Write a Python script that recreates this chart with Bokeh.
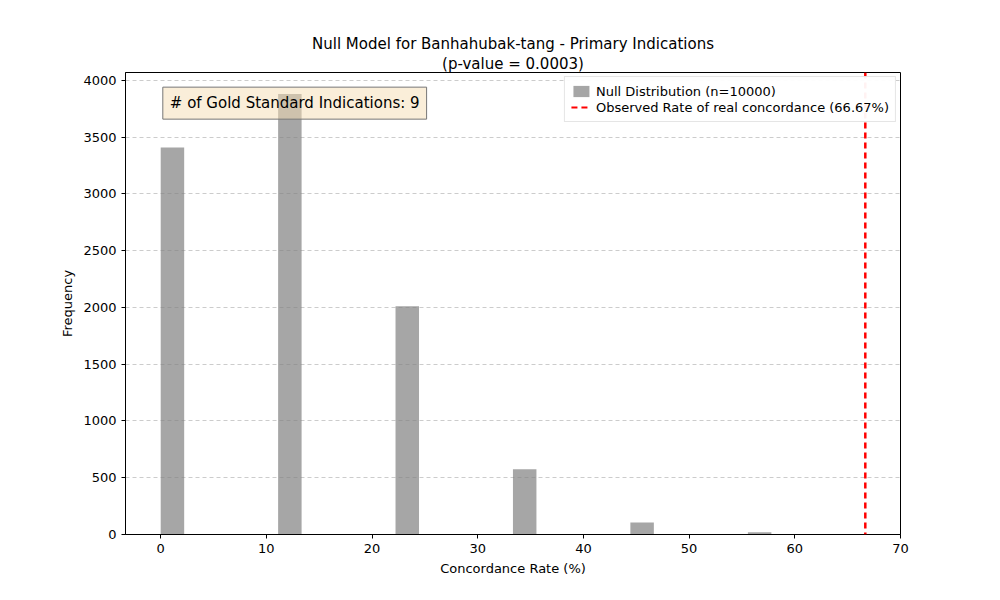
from bokeh.plotting import figure
from bokeh.models import Span, Label, Legend, LegendItem, FixedTicker, Title
from bokeh.embed import file_html
from bokeh.resources import INLINE

binLefts = [0.0, 11.11, 22.22, 33.33, 44.44, 55.56]
binWidth = 66.67 / 30
counts = [3410, 3880, 2010, 575, 105, 20]
observed = 66.67
goldCount = 9

p = figure(width=984, height=584, output_backend="svg", toolbar_location=None,
           x_range=(-3.33, 70), y_range=(0, 4070),
           x_axis_label="Concordance Rate (%)", y_axis_label="Frequency",
           min_border_left=125, min_border_right=84, min_border_top=72, min_border_bottom=50)
# two title lines, each centred
for line in ["(p-value = 0.0003)", "Null Model for Banhahubak-tang - Primary Indications"]:
    p.add_layout(Title(text=line, align="center", text_font="DejaVu Sans", text_font_size="15px",
                       text_font_style="normal", text_color="black", standoff=0), "above")

bars = p.quad(left=binLefts, right=[b + binWidth for b in binLefts], bottom=0, top=counts,
              fill_color="gray", fill_alpha=0.7, line_color=None)
obs = Span(location=observed, dimension="height", line_color="red", line_width=2.5, line_dash="6 4")
p.add_layout(obs)
ghost = p.line([observed, observed], [0, 0], line_color="red", line_width=2, line_dash="6 4")

legend = Legend(items=[LegendItem(label="Null Distribution (n=10000)", renderers=[bars]),
                       LegendItem(label="Observed Rate of real concordance (66.67%)", renderers=[ghost])],
                location="top_right", label_text_font="DejaVu Sans", label_text_font_size="13px",
                label_text_color="black",
                border_line_color="#cccccc", spacing=0, padding=6, margin=4, label_height=16, glyph_height=14)
p.add_layout(legend)

p.add_layout(Label(x=0.2, y=3800, text="# of Gold Standard Indications: %d" % goldCount,
                   text_font="DejaVu Sans", text_font_size="15px", text_baseline="middle",
                   text_color="black",
                   background_fill_color="wheat", background_fill_alpha=0.5,
                   border_line_color="#777777", border_line_width=1,
                   padding=7))

p.xaxis.ticker = FixedTicker(ticks=[0, 10, 20, 30, 40, 50, 60, 70])
p.yaxis.ticker = FixedTicker(ticks=list(range(0, 4001, 500)))
p.xgrid.grid_line_color = None
p.ygrid.grid_line_dash = "4 3"
p.ygrid.grid_line_color = "#cccccc"
for ax in (p.xaxis, p.yaxis):
    ax.major_label_text_font = "DejaVu Sans"
    ax.major_label_text_font_size = "13px"
    ax.major_label_text_color = "black"
    ax.axis_label_text_font = "DejaVu Sans"
    ax.axis_label_text_font_size = "13px"
    ax.axis_label_text_font_style = "normal"
    ax.axis_label_text_color = "black"
    ax.minor_tick_line_color = None
    ax.major_tick_out = 4
    ax.major_tick_in = 0
    ax.axis_line_color = "black"
p.outline_line_color = "black"

open("out.html", "w").write(file_html(p, INLINE))
